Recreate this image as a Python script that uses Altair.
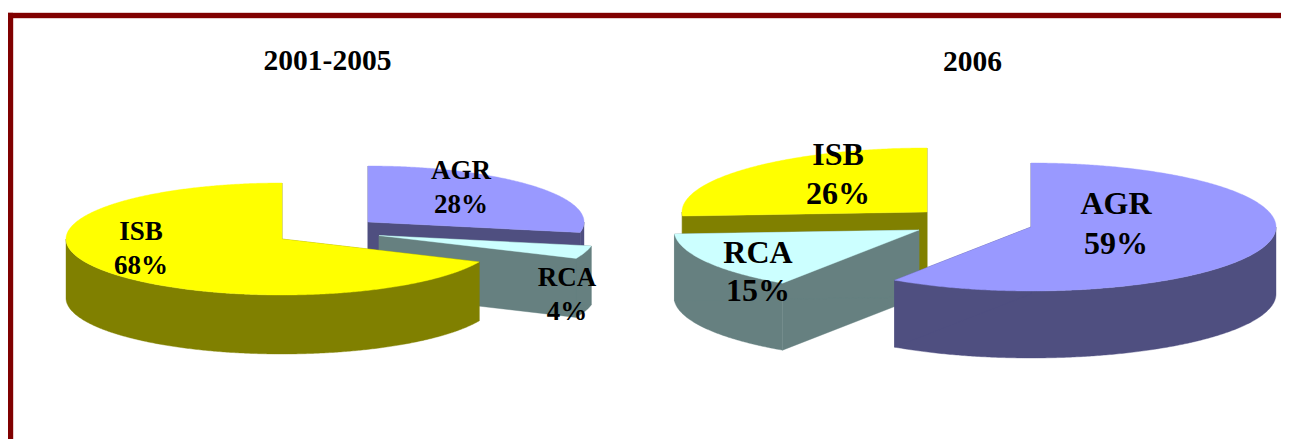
import math
import altair as alt

# --- values (shares in percent, clockwise from 12 o'clock)
slices_left = ["AGR", "RCA", "ISB"]
values_left = [28.0, 3.7, 68.3]
slices_right = ["AGR", "RCA", "ISB"]
values_right = [59.4, 14.6, 26.0]
titles = ["2001-2005", "2006"]

# --- styles
TOP = {"AGR": "#9999FF", "RCA": "#CCFFFF", "ISB": "#FFFF00"}
WALL = {"AGR": "#4F4F80", "RCA": "#668080", "ISB": "#808000"}
FRAME = "#800000"
W, H = 1273, 431
OX, OY = 8, 8  # page margin: image px -> chart px


def P(x, y):
    return [x - OX, y - OY]


def feature(ring, color):
    return {"type": "Feature", "properties": {"color": color},
            "geometry": {"type": "Polygon", "coordinates": [ring + [ring[0]]]}}


def pie_features(names, values, centres, rx, ry, depth, order):
    feats = []
    spans = {}
    start = 0.0
    for n, v in zip(names, values):
        spans[n] = (start, start + v * 3.6)
        start += v * 3.6

    def ellipse(cx, cy, a0, a1):
        steps = max(2, int((a1 - a0) * 2))
        return [(cx + rx * math.sin(math.radians(a0 + (a1 - a0) * i / steps)),
                 cy - ry * math.cos(math.radians(a0 + (a1 - a0) * i / steps)))
                for i in range(steps + 1)]

    for n in order:
        cx, cy = centres[n]
        a0, a1 = spans[n]
        # outer rim: only the part facing the viewer
        f0, f1 = max(a0, 90.0), min(a1, 270.0)
        if f1 > f0:
            front = ellipse(cx, cy, f0, f1)
            rim = [P(x, y) for x, y in front] + [P(x, y + depth) for x, y in reversed(front)]
            feats.append(feature(rim, WALL[n]))
        # cut faces
        arc = ellipse(cx, cy, a0, a1)
        for x, y in (arc[0], arc[-1]):
            face = [P(cx, cy), P(x, y), P(x, y + depth), P(cx, cy + depth)]
            feats.append(feature(face, WALL[n]))
        top = [P(cx, cy)] + [P(x, y) for x, y in arc]
        feats.append(feature(top, TOP[n]))
    return feats


features = []
features += pie_features(
    slices_left, values_left,
    {"AGR": (368, 222), "RCA": (379, 235.5), "ISB": (282, 239)},
    216, 56, 59, ["AGR", "RCA", "ISB"])
features += pie_features(
    slices_right, values_right,
    {"AGR": (1031, 227), "RCA": (919, 230), "ISB": (927, 212)},
    245, 64, 67, ["ISB", "RCA", "AGR"])
# frame
features.append(feature([P(8, 13), P(8 + W, 13), P(8 + W, 18), P(8, 18)], FRAME))
features.append(feature([P(8, 13), P(13, 13), P(13, 439), P(8, 439)], FRAME))

label_anchor = {
    ("L", "AGR"): (461, 171, 205, 27), ("L", "RCA"): (567, 278, 312, 27), ("L", "ISB"): (141, 232, 266, 27),
    ("R", "AGR"): (1116, 204, 244, 32), ("R", "RCA"): (758, 253, 291, 32), ("R", "ISB"): (838, 155, 194, 32),
}
rows = []
for side, names, vals in (("L", slices_left, values_left), ("R", slices_right, values_right)):
    for n, v in zip(names, vals):
        x, y1, y2, fs = label_anchor[(side, n)]
        rows.append({"lon": x - OX, "lat": y1 - OY, "t": n, "fs": fs})
        rows.append({"lon": x - OX, "lat": y2 - OY, "t": f"{round(v)}%", "fs": fs})
for t, x, y in zip(titles, (327.5, 972.5), (61, 62)):
    rows.append({"lon": x - OX, "lat": y - OY, "t": t, "fs": 29.5})

shapes = alt.Chart(alt.Data(values=features)).mark_geoshape(strokeWidth=0.4).encode(
    fill=alt.Fill("properties.color:N", scale=None, legend=None),
    stroke=alt.Stroke("properties.color:N", scale=None, legend=None),
)


def text_layer(fs):
    return alt.Chart(alt.Data(values=[r for r in rows if r["fs"] == fs])).mark_text(
        font="Liberation Serif", fontWeight="bold", fontSize=fs, color="#000000",
        align="center", baseline="middle"
    ).encode(longitude="lon:Q", latitude="lat:Q", text="t:N")


chart = alt.layer(shapes, text_layer(27), text_layer(32), text_layer(29.5)).project(
    type="identity", scale=1, translate=[0, 0]
).properties(
    width=W, height=H, padding=0, autosize=alt.AutoSizeParams(type="none")
).configure_view(stroke=None).configure(background="#FFFFFF")

chart.save("out.html", embed_options={"renderer": "svg", "actions": False})
